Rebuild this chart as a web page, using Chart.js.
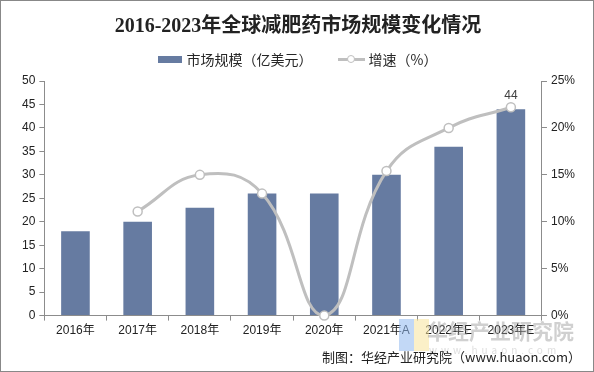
<!DOCTYPE html>
<html>
<head>
<meta charset="utf-8">
<script src="https://cdn.jsdelivr.net/npm/chart.js@4"></script>
<style>
  html, body { margin: 0; padding: 0; background: #fff; }
  #box { position: relative; width: 594px; height: 372px; box-sizing: border-box; border: 1px solid #888; overflow: hidden; font-family: "Noto Sans CJK SC", "Liberation Sans", sans-serif; }
  #chart { position: absolute; left: 0; top: 0; }
  .title { position: absolute; left: 0; width: 594px; top: 8px; text-align: center; font: bold 20px "Liberation Serif", "Noto Sans CJK SC", serif; color: #222; }
  .legend { position: absolute; top: 46px; left: 0; width: 594px; text-align: center; font-size: 14px; color: #262626; }
  .legend span { display: inline-block; vertical-align: middle; }
  .sw-bar { width: 24px; height: 7px; background: #667ba1; margin-right: 4px; }
  .sw-line { position: relative; width: 27px; height: 10px; margin-left: 22px; margin-right: 4px; }
  .sw-line i { position: absolute; left: 0; top: 4px; width: 27px; height: 3px; background: #bfbfbf; }
  .sw-line b { position: absolute; left: 9px; top: 1px; width: 6px; height: 6px; border: 1.5px solid #bfbfbf; border-radius: 50%; background: #fff; }
  .mark { position: absolute; left: 398px; top: 318px; width: 30px; height: 32px; }
  .mark i { position: absolute; top: 0; width: 15px; height: 32px; opacity: 0.55; }
  .wm { position: absolute; left: 426px; top: 314px; font-size: 21px; font-weight: bold; color: rgba(150,150,150,0.45); }
  .wm2 { position: absolute; left: 428px; top: 341px; font-size: 10px; color: rgba(160,160,160,0.35); letter-spacing: 4px; }
  .foot { position: absolute; right: 12px; top: 346px; font-size: 13px; color: #222; }
</style>
</head>
<body>
<div id="box">
  <canvas id="chart" width="592" height="370"></canvas>
  <div class="title">2016-2023年全球减肥药市场规模变化情况</div>
  <div class="legend">
    <span class="sw-bar"></span><span>市场规模（亿美元）</span>
    <span class="sw-line"><i></i><b></b></span><span>增速（%）</span>
  </div>
  <div class="mark"><i style="left:0;background:#8fb8ee"></i><i style="left:15px;background:#f7e39a"></i></div>
  <div class="wm">华经产业研究院</div>
  <div class="wm2">www.huaon.com</div>
  <div class="foot">制图：华经产业研究院（www.huaon.com）</div>
</div>
<script>
// ---------------- DATOS ----------------
const anios = ['2016年', '2017年', '2018年', '2019年', '2020年', '2021年A', '2022年E', '2023年E'];
const mercado = [18, 20, 23, 26, 26, 30, 36, 44];           // 亿美元
const crecimiento = [null, 11.1, 15.0, 13.0, 0, 15.4, 20.0, 22.2]; // %

const azul = '#667ba1';
const gris = '#bfbfbf';
const ejes = '#8c8c8c';

// etiqueta "44" solo en la última barra
const etiquetaFinal = {
    id: 'etiquetaFinal',
    afterDatasetsDraw(chart) {
        const ctx = chart.ctx;
        const meta = chart.getDatasetMeta(1);
        const i = mercado.length - 1;
        const bar = meta.data[i];
        ctx.save();
        ctx.font = '12px "Liberation Sans", Arial, sans-serif';
        ctx.fillStyle = '#404040';
        ctx.textAlign = 'center';
        ctx.textBaseline = 'bottom';
        ctx.fillText(String(mercado[i]), bar.x, bar.y - 7);
        ctx.restore();
    }
};

const ctx = document.getElementById('chart').getContext('2d');
new Chart(ctx, {
    data: {
        labels: anios,
        datasets: [
            {
                type: 'line',
                label: '增速（%）',
                data: crecimiento,
                yAxisID: 'y1',
                borderColor: gris,
                borderWidth: 3,
                tension: 0.45,
                pointRadius: 4.5,
                pointBorderWidth: 1.5,
                pointBackgroundColor: '#fff',
                pointBorderColor: gris,
                clip: false,
                order: 0
            },
            {
                type: 'bar',
                label: '市场规模（亿美元）',
                data: mercado,
                yAxisID: 'y',
                backgroundColor: azul,
                barPercentage: 0.46,
                categoryPercentage: 1,
                order: 1
            }
        ]
    },
    options: {
        responsive: false,
        animation: false,
        layout: { padding: { top: 80, left: 17, right: 14, bottom: 30 } },
        plugins: { legend: { display: false }, title: { display: false }, tooltip: { enabled: false } },
        scales: {
            x: {
                offset: true,
                grid: { offset: true, drawOnChartArea: false, drawTicks: true, tickLength: 5, color: ejes },
                border: { color: ejes },
                ticks: { color: '#222', font: { size: 12, family: '"Liberation Sans", "Noto Sans CJK SC", sans-serif' }, maxRotation: 0, padding: 3 }
            },
            y: {
                position: 'left',
                min: 0, max: 50,
                ticks: { stepSize: 5, color: '#222', font: { size: 12, family: '"Liberation Sans", Arial, sans-serif' }, padding: 4 },
                grid: { drawOnChartArea: false, tickLength: 5, color: ejes },
                border: { color: ejes }
            },
            y1: {
                position: 'right',
                min: 0, max: 25,
                ticks: { stepSize: 5, color: '#222', callback: v => v + '%', font: { size: 12, family: '"Liberation Sans", Arial, sans-serif' }, padding: 4 },
                grid: { drawOnChartArea: false, tickLength: 5, color: ejes },
                border: { color: ejes }
            }
        }
    },
    plugins: [etiquetaFinal]
});
</script>
</body>
</html>
